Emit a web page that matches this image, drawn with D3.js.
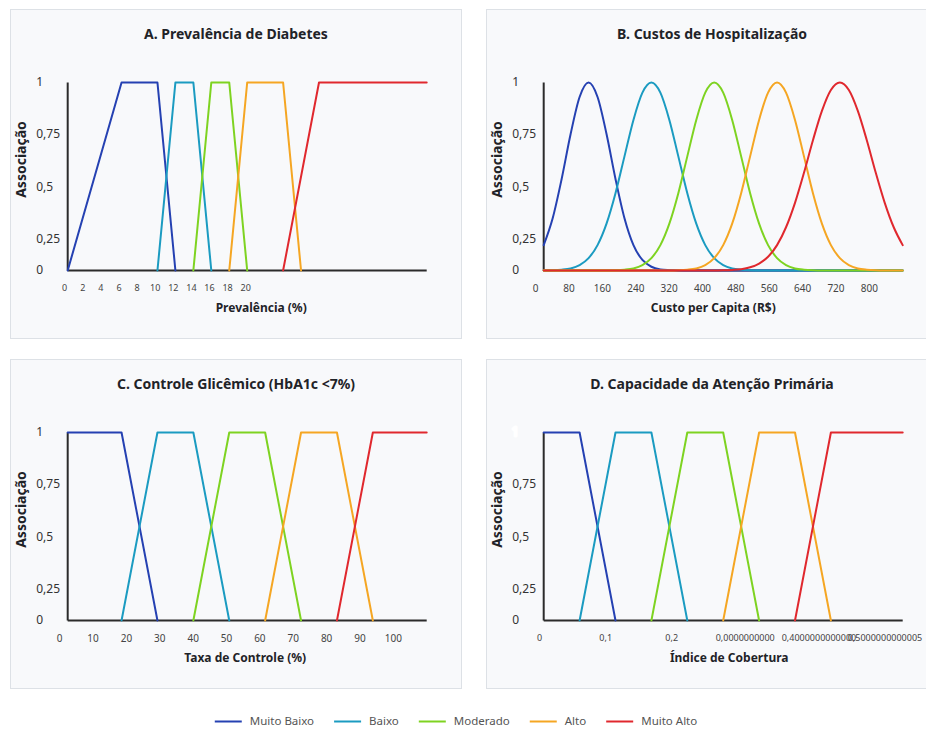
<!DOCTYPE html>
<html><head><meta charset="utf-8">
<script src="https://cdn.jsdelivr.net/npm/d3@7/dist/d3.min.js"></script>
<style>
body{margin:0;background:#fff;}
svg{display:block;font-family:"Segoe UI","Noto Sans","Open Sans",sans-serif;}
</style></head><body>
<svg id="chart" width="926" height="729"></svg>
<script>
// ---------- shared ----------
const seriesNames = ["Muito Baixo", "Baixo", "Moderado", "Alto", "Muito Alto"];
const seriesColors = ["#2541b2", "#1b9bc1", "#7ed321", "#f5a623", "#e0282e"];
const yTicks = [0, 0.25, 0.5, 0.75, 1];
const yTickLabels = ["0", "0,25", "0,5", "0,75", "1"];
const yAxisTitle = "Associação";

// ---------- A. Prevalência de Diabetes (trapezoid breakpoints a,b,c,d) ----------
const prevTitle = "A. Prevalência de Diabetes";
const prevXTitle = "Prevalência (%)";
const prevDomain = [0, 40];
const prevTicks = [0, 2, 4, 6, 8, 10, 12, 14, 16, 18, 20];
const prevTickLabels = ["0", "2", "4", "6", "8", "10", "12", "14", "16", "18", "20"];
const prevMuitoBaixo = [0, 6, 10, 12];
const prevBaixo = [10, 12, 14, 16];
const prevModerado = [14, 16, 18, 20];
const prevAlto = [18, 20, 24, 26];
const prevMuitoAlto = [24, 28, 40, 40];

// ---------- B. Custos de Hospitalização (sampled membership curves) ----------
const custoTitle = "B. Custos de Hospitalização";
const custoXTitle = "Custo per Capita (R$)";
const custoDomain = [0, 800];
const custoTicks = [0, 80, 160, 240, 320, 400, 480, 560, 640, 720, 800];
const custoTickLabels = ["0", "80", "160", "240", "320", "400", "480", "560", "640", "720", "800"];
const custoX = [0,20,40,60,80,100,120,140,160,180,200,220,240,260,280,300,320,340,360,380,400,420,440,460,480,500,520,540,560,580,600,620,640,660,680,700,720,740,760,780,800];
const custoMuitoBaixo = [0.135,0.278,0.487,0.726,0.923,1,0.923,0.726,0.487,0.278,0.135,0.056,0.020,0.006,0.002,0,0,0,0,0,0,0,0,0,0,0,0,0,0,0,0,0,0,0,0,0,0,0,0,0,0];
const custoBaixo = [0,0.001,0.004,0.011,0.029,0.066,0.135,0.249,0.411,0.607,0.801,0.946,1,0.946,0.801,0.607,0.411,0.249,0.135,0.066,0.029,0.011,0.004,0.001,0,0,0,0,0,0,0,0,0,0,0,0,0,0,0,0,0];
const custoModerado = [0,0,0,0,0,0,0,0,0.001,0.004,0.011,0.029,0.066,0.135,0.249,0.411,0.607,0.801,0.946,1,0.946,0.801,0.607,0.411,0.249,0.135,0.066,0.029,0.011,0.004,0.001,0,0,0,0,0,0,0,0,0,0];
const custoAlto = [0,0,0,0,0,0,0,0,0,0,0,0,0,0,0,0.001,0.004,0.011,0.029,0.066,0.135,0.249,0.411,0.607,0.801,0.946,1,0.946,0.801,0.607,0.411,0.249,0.135,0.066,0.029,0.011,0.004,0.001,0,0,0];
const custoMuitoAlto = [0,0,0,0,0,0,0,0,0,0,0,0,0,0,0,0,0,0,0,0,0.001,0.003,0.007,0.017,0.037,0.073,0.135,0.230,0.360,0.520,0.693,0.849,0.960,1,0.960,0.849,0.693,0.520,0.360,0.230,0.135];

// ---------- C. Controle Glicêmico ----------
const ctrlTitle = "C. Controle Glicêmico (HbA1c <7%)";
const ctrlXTitle = "Taxa de Controle (%)";
const ctrlDomain = [0, 100];
const ctrlTicks = [0, 10, 20, 30, 40, 50, 60, 70, 80, 90, 100];
const ctrlTickLabels = ["0", "10", "20", "30", "40", "50", "60", "70", "80", "90", "100"];
const ctrlMuitoBaixo = [0, 0, 15, 25];
const ctrlBaixo = [15, 25, 35, 45];
const ctrlModerado = [35, 45, 55, 65];
const ctrlAlto = [55, 65, 75, 85];
const ctrlMuitoAlto = [75, 85, 100, 100];

// ---------- D. Capacidade da Atenção Primária ----------
const capTitle = "D. Capacidade da Atenção Primária";
const capXTitle = "Índice de Cobertura";
const capDomain = [0, 0.5];
const capTicks = [0, 0.1, 0.2, 0.3, 0.4, 0.5];
const capTickLabels = ["0", "0,1", "0,2", "0,0000000000", "0,4000000000000", "0,5000000000005"];
const capMuitoBaixo = [0, 0, 0.05, 0.1];
const capBaixo = [0.05, 0.1, 0.15, 0.2];
const capModerado = [0.15, 0.2, 0.25, 0.3];
const capAlto = [0.25, 0.3, 0.35, 0.4];
const capMuitoAlto = [0.35, 0.4, 0.5, 0.5];

// ---------- build ----------
function trap(p) {
  const pts = [];
  if (p[0] !== p[1]) pts.push([p[0], 0]);
  pts.push([p[1], 1], [p[2], 1]);
  if (p[2] !== p[3]) pts.push([p[3], 0]);
  return pts;
}
const zipCurve = ys => custoX.map((x, i) => [x, ys[i]]);

const panels = [
  { px: 10, py: 9, title: prevTitle, xTitle: prevXTitle, xTitleDx: 14, domain: prevDomain,
    ticks: prevTicks, tickLabels: prevTickLabels, tickFont: 9, labelStretch: 1.0, labelShift: -3,
    series: [prevMuitoBaixo, prevBaixo, prevModerado, prevAlto, prevMuitoAlto].map(trap), smooth: false },
  { px: 486, py: 9, title: custoTitle, xTitle: custoXTitle, xTitleDx: -10, domain: custoDomain,
    ticks: custoTicks, tickLabels: custoTickLabels, tickFont: 10, labelStretch: 1.1, labelShift: -8,
    series: [custoMuitoBaixo, custoBaixo, custoModerado, custoAlto, custoMuitoAlto].map(zipCurve), smooth: true },
  { px: 10, py: 359, title: ctrlTitle, xTitle: ctrlXTitle, xTitleDx: -2, domain: ctrlDomain,
    ticks: ctrlTicks, tickLabels: ctrlTickLabels, tickFont: 10, labelStretch: 1.1, labelShift: -8,
    series: [ctrlMuitoBaixo, ctrlBaixo, ctrlModerado, ctrlAlto, ctrlMuitoAlto].map(trap), smooth: false },
  { px: 486, py: 359, title: capTitle, xTitle: capXTitle, xTitleDx: 6, domain: capDomain,
    ticks: capTicks, tickLabels: capTickLabels, tickFont: 9, labelStretch: 1.1, labelShift: -4,
    series: [capMuitoBaixo, capBaixo, capModerado, capAlto, capMuitoAlto].map(trap), smooth: false, hideTop: true }
];

const svg = d3.select("#chart");
const PW = 452, PH = 330;

panels.forEach(p => {
  const g = svg.append("g").attr("transform", `translate(${p.px},${p.py})`);
  g.append("rect").attr("x", 0.5).attr("y", 0.5).attr("width", PW - 1).attr("height", PH - 1)
    .attr("fill", "#f8f9fb").attr("stroke", "#dde1e6").attr("stroke-width", 1);

  const left = 57.7, right = 416.7, top = 73.5, bottom = 261.5;
  const x = d3.scaleLinear().domain(p.domain).range([left, right]);
  const y = d3.scaleLinear().domain([0, 1]).range([bottom, top]);
  // tick label placement scales (as in the original rendering)
  const xLab = d3.scaleLinear().domain([p.domain[0], p.domain[1] * p.labelStretch]).range([left + p.labelShift, right]);
  const yLab = d3.scaleLinear().domain([0, 1]).range([bottom + 0.1155 * (bottom - top), top]);

  g.append("text").attr("x", PW / 2).attr("y", 26).attr("text-anchor", "middle")
    .attr("dominant-baseline", "middle").attr("font-size", 14).attr("font-weight", 700)
    .attr("fill", "#1f2328").text(p.title);

  // axes
  g.append("line").attr("x1", left).attr("x2", left).attr("y1", y(1)).attr("y2", y(0))
    .attr("stroke", "#2b2b2b").attr("stroke-width", 2);
  g.append("line").attr("x1", left).attr("x2", right).attr("y1", y(0)).attr("y2", y(0))
    .attr("stroke", "#2b2b2b").attr("stroke-width", 2);

  // y tick labels
  yTicks.forEach((v, i) => {
    const t = g.append("text").attr("x", left - 31.5)
      .attr("y", v === 0 ? y(0) : yLab(v)).attr("dominant-baseline", "middle")
      .attr("font-size", 12).attr("fill", "#333").text(yTickLabels[i]);
    if (p.hideTop && v === 1) {
      t.attr("fill", "#fff").attr("stroke", "#fff").attr("stroke-width", 3)
        .attr("stroke-linejoin", "round").attr("x", left - 32);
    }
  });

  // x tick labels
  p.ticks.forEach((v, i) => {
    const s = p.tickLabels[i];
    const long = s.length > 6;
    g.append("text").attr("x", long ? xLab(v) - 22 : xLab(v)).attr("y", bottom + 18.5)
      .attr("text-anchor", long ? "start" : "middle").attr("dominant-baseline", "middle")
      .attr("font-size", p.tickFont).attr("fill", "#444").text(s);
  });

  // axis titles
  g.append("text").attr("x", (left + right) / 2 + p.xTitleDx).attr("y", bottom + 38)
    .attr("text-anchor", "middle").attr("dominant-baseline", "middle")
    .attr("font-size", 12).attr("font-weight", 700).attr("fill", "#1f2328").text(p.xTitle);
  g.append("text").attr("transform", `translate(12.5,${top + 77}) rotate(-90)`)
    .attr("text-anchor", "middle").attr("dominant-baseline", "middle")
    .attr("font-size", 14).attr("font-weight", 700).attr("fill", "#1f2328").text(yAxisTitle);

  const line = d3.line().x(d => x(d[0])).y(d => y(d[1]))
    .curve(p.smooth ? d3.curveMonotoneX : d3.curveLinear);
  p.series.forEach((s, i) => {
    g.append("path").datum(s).attr("d", line).attr("fill", "none")
      .attr("stroke", seriesColors[i]).attr("stroke-width", 2)
      .attr("stroke-linejoin", "round").attr("stroke-linecap", "round");
  });
});

// legend
const leg = svg.append("g");
let cx = 0;
seriesNames.forEach((n, i) => {
  const it = leg.append("g");
  it.append("line").attr("x1", 0).attr("x2", 27).attr("y1", 0).attr("y2", 0)
    .attr("stroke", seriesColors[i]).attr("stroke-width", 2);
  const t = it.append("text").attr("x", 35).attr("y", 0).attr("dominant-baseline", "middle")
    .attr("font-size", 11.5).attr("fill", "#555").text(n);
  const w = 35 + t.node().getComputedTextLength();
  it.attr("transform", `translate(${cx},0)`);
  cx += w + 20;
});
const totalW = cx - 20;
leg.attr("transform", `translate(${456 - totalW / 2},721.5)`);
</script>
</body></html>
